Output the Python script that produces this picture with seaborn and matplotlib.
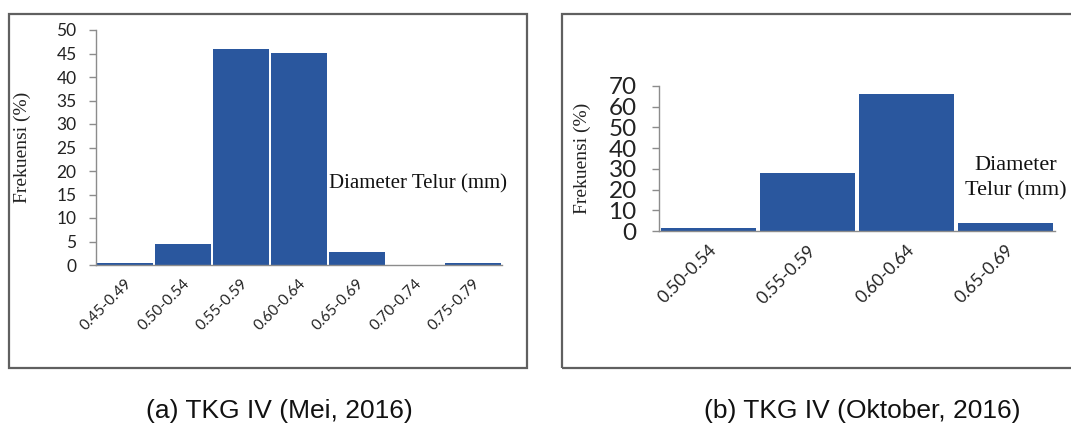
import matplotlib
matplotlib.use("Agg")
import matplotlib.pyplot as plt
import seaborn as sns
import pandas as pd
from matplotlib.patches import Rectangle

sns.set_theme(style="white")

cats_a = ["0.45-0.49", "0.50-0.54", "0.55-0.59", "0.60-0.64", "0.65-0.69", "0.70-0.74", "0.75-0.79"]
vals_a = [0.5, 4.5, 46.0, 45.2, 2.7, 0.0, 0.5]
cats_b = ["0.50-0.54", "0.55-0.59", "0.60-0.64", "0.65-0.69"]
vals_b = [1.5, 28.0, 66.0, 4.0]
yticks_a = list(range(0, 51, 5))
yticks_b = list(range(0, 71, 10))
caption_a = "(a) TKG IV (Mei, 2016)"
caption_b = "(b) TKG IV (Oktober, 2016)"
xlabel = "Diameter Telur (mm)"
ylabel = "Frekuensi (%)"

BAR = "#2A579E"
SPINE = "#8c8c8c"
W, H = 1071, 425
fig = plt.figure(figsize=(W / 100, H / 100), dpi=100)

# outer frames
for (x0, x1) in [(9, 527), (562, 1080)]:
    fig.patches.append(Rectangle((x0 / W, 1 - 368 / H), (x1 - x0) / W, (368 - 14) / H,
                                 transform=fig.transFigure, fill=False,
                                 edgecolor="#606060", linewidth=1.6))

def panel(rect, cats, vals, yticks, ytick_fs, xtick_fs, ylab_fs, ypad):
    ax = fig.add_axes(rect)
    df = pd.DataFrame({"cat": cats, "val": vals})
    sns.barplot(data=df, x="cat", y="val", color=BAR, saturation=1, width=0.95, ax=ax)
    for p in ax.patches:
        p.set_edgecolor("none")
    n = len(cats)
    ax.set_xlim(-0.5, n - 0.5)
    ax.set_ylim(0, yticks[-1])
    ax.set_yticks(yticks)
    ax.set_yticklabels([str(t) for t in yticks], fontfamily="Lato", fontsize=ytick_fs, color="#222222")
    ax.set_xticks(range(n))
    ax.set_xticklabels(cats, rotation=45, ha="right", rotation_mode="anchor",
                       fontfamily="Lato", fontsize=xtick_fs, color="#222222")
    ax.set_xticks([i - 0.5 for i in range(n + 1)], minor=True)
    ax.tick_params(axis="x", which="major", length=0, pad=8)
    ax.tick_params(axis="x", which="minor", length=5, color=SPINE, width=1, direction="out")
    ax.tick_params(axis="y", length=5, color=SPINE, width=1, direction="out", pad=ypad, left=True)
    for s in ["top", "right"]:
        ax.spines[s].set_visible(False)
    for s in ["left", "bottom"]:
        ax.spines[s].set_color(SPINE)
        ax.spines[s].set_linewidth(1)
    ax.set_xlabel("")
    ax.set_ylabel(ylabel, fontfamily="Liberation Serif", fontsize=ylab_fs, color="#222222")
    ax.patch.set_alpha(0)
    return ax

ax1 = panel([96 / W, 1 - 265 / H, (502 - 96) / W, (265 - 30) / H],
            cats_a, vals_a, yticks_a, 12.5, 11, 14, 9)
ax1.yaxis.set_label_coords((31 - 96) / (502 - 96), 0.5)
fig.text(329 / W, 1 - 184 / H, xlabel, ha="left", va="center",
         fontfamily="Liberation Serif", fontsize=15, color="#111111")

ax2 = panel([659 / W, 1 - 231 / H, (1055 - 659) / W, (231 - 86) / H],
            cats_b, vals_b, yticks_b, 17.5, 12.5, 14, 11)
ax2.yaxis.set_label_coords((591 - 659) / (1055 - 659), 0.5)
fig.text(1016 / W, 1 - 166 / H, "Diameter", ha="center", va="center",
         fontfamily="Liberation Serif", fontsize=16, color="#111111")
fig.text(1016 / W, 1 - 191 / H, "Telur (mm)", ha="center", va="center",
         fontfamily="Liberation Serif", fontsize=16, color="#111111")

fig.text(279 / W, 1 - 411 / H, caption_a, ha="center", va="center",
         fontfamily="Liberation Sans", fontsize=19, color="#111111")
fig.text(862 / W, 1 - 411 / H, caption_b, ha="center", va="center",
         fontfamily="Liberation Sans", fontsize=19, color="#111111")

fig.savefig("out.png", dpi=100)
